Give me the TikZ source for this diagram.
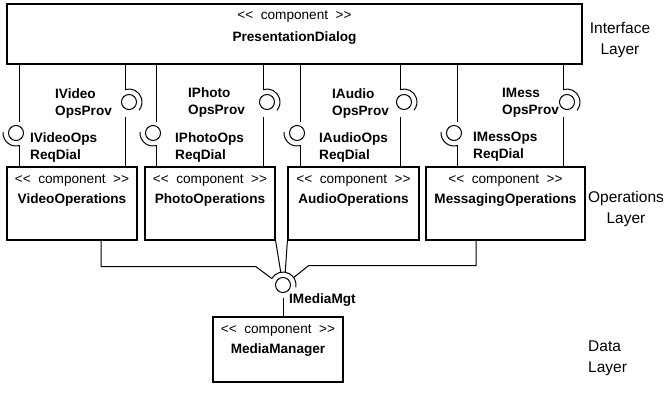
\documentclass[tikz,border=0pt]{standalone}
\usepackage{fontspec}
\setmainfont{Liberation Sans}
\usetikzlibrary{positioning}
\newcommand{\stereo}{<\kern0pt<\ \ component\ \ >\kern0pt>}

\begin{document}
\begin{tikzpicture}[x=1pt,y=1pt,
  comp/.style={draw, line width=1.2pt, inner sep=0pt},
  ctext/.style={align=center, inner sep=0pt, font=\fontsize{13.6}{20}\selectfont},
  iface/.style={align=left, inner sep=0pt, anchor=west, font=\fontsize{13.6}{17}\selectfont\bfseries},
  layer/.style={inner sep=0pt, font=\fontsize{15.5}{21}\selectfont},
  ball/.style={circle, draw, line width=1pt, minimum size=15pt, inner sep=0pt},
  wire/.style={line width=1pt}]
  \useasboundingbox (0,0) rectangle (667,-393);

  % components
  \node[comp, minimum width=575pt, minimum height=60pt] (pd) at (294.5,-34) {};
  \node[ctext, font=\fontsize{13.6}{22}\selectfont] (pdt) at (294.5,-28) {\stereo\\\textbf{PresentationDialog}};
  \node[comp, minimum width=130pt, minimum height=73pt] (vo) at (72,-203.5) {};
  \node[ctext] (vot) at (72,-191) {\stereo\\\textbf{VideoOperations}};
  \node[comp, minimum width=130pt, minimum height=73pt] (po) at (210,-203.5) {};
  \node[ctext] (pot) at (210,-191) {\stereo\\\textbf{PhotoOperations}};
  \node[comp, minimum width=131pt, minimum height=73pt] (ao) at (353.5,-203.5) {};
  \node[ctext] (aot) at (353.5,-191) {\stereo\\\textbf{AudioOperations}};
  \node[comp, minimum width=159pt, minimum height=73pt] (mo) at (505.5,-203.5) {};
  \node[ctext] (mot) at (505.5,-191) {\stereo\\\textbf{MessagingOperations}};
  \node[comp, minimum width=130pt, minimum height=65pt] (mm) at (278,-349.5) {};
  \node[ctext] (mmt) at (278,-341) {\stereo\\\textbf{MediaManager}};

  % layers
  \node[layer, align=center] (il) at (620,-40) {Interface\\Layer};
  \node[layer, align=center] (ol) at (626,-209) {Operations\\Layer};
  \node[layer, align=left, anchor=west] (dl) at (588,-358) {Data\\Layer};

  % video interfaces
  \node[ball] (vreq) at (16,-133) {};
  \draw[wire] ([xshift=3pt]vreq.north |- pd.south) -- ([xshift=3pt,yshift=3pt]vreq.north);
  \draw[wire] (vreq.center) ++(175:13) arc[start angle=175, end angle=285, radius=13];
  \draw[wire] ([xshift=3pt,yshift=-4pt]vreq.south) -- ([xshift=3pt]vreq.south |- vo.north);
  \node[iface] (vreql) at (30,-147) {IVideoOps\\ReqDial};
  \node[ball] (vprov) at (129,-102) {};
  \draw[wire] ([xshift=-4pt]vprov.north |- pd.south) -- ([xshift=-4pt,yshift=4pt]vprov.north);
  \draw[wire] (vprov.center) ++(108:13) arc[start angle=108, end angle=-40, radius=13];
  \draw[wire] ([xshift=-4pt,yshift=-7pt]vprov.south) -- ([xshift=-4pt]vprov.south |- vo.north);
  \node[iface] (vprovl) at (55,-103.5) {IVideo\\OpsProv};

  % photo interfaces
  \node[ball] (preq) at (153,-133) {};
  \draw[wire] ([xshift=3pt]preq.north |- pd.south) -- ([xshift=3pt,yshift=3pt]preq.north);
  \draw[wire] (preq.center) ++(175:13) arc[start angle=175, end angle=285, radius=13];
  \draw[wire] ([xshift=3pt,yshift=-4pt]preq.south) -- ([xshift=3pt]preq.south |- po.north);
  \node[iface] (preql) at (175,-147) {IPhotoOps\\ReqDial};
  \node[ball] (pprov) at (267,-102) {};
  \draw[wire] ([xshift=-4pt]pprov.north |- pd.south) -- ([xshift=-4pt,yshift=4pt]pprov.north);
  \draw[wire] (pprov.center) ++(108:13) arc[start angle=108, end angle=-40, radius=13];
  \draw[wire] ([xshift=-4pt,yshift=-7pt]pprov.south) -- ([xshift=-4pt]pprov.south |- po.north);
  \node[iface] (pprovl) at (188,-102) {IPhoto\\OpsProv};

  % audio interfaces
  \node[ball] (areq) at (297,-133) {};
  \draw[wire] ([xshift=3pt]areq.north |- pd.south) -- ([xshift=3pt,yshift=3pt]areq.north);
  \draw[wire] (areq.center) ++(175:13) arc[start angle=175, end angle=285, radius=13];
  \draw[wire] ([xshift=3pt,yshift=-4pt]areq.south) -- ([xshift=3pt]areq.south |- ao.north);
  \node[iface] (areql) at (319,-147) {IAudioOps\\ReqDial};
  \node[ball] (aprov) at (404,-102) {};
  \draw[wire] ([xshift=-4pt]aprov.north |- pd.south) -- ([xshift=-4pt,yshift=4pt]aprov.north);
  \draw[wire] (aprov.center) ++(108:13) arc[start angle=108, end angle=-40, radius=13];
  \draw[wire] ([xshift=-4pt,yshift=-7pt]aprov.south) -- ([xshift=-4pt]aprov.south |- ao.north);
  \node[iface] (aprovl) at (332,-103) {IAudio\\OpsProv};

  % messaging interfaces
  \node[ball] (mreq) at (454,-133) {};
  \draw[wire] ([xshift=3pt]mreq.north |- pd.south) -- ([xshift=3pt,yshift=3pt]mreq.north);
  \draw[wire] (mreq.center) ++(175:13) arc[start angle=175, end angle=285, radius=13];
  \draw[wire] ([xshift=3pt,yshift=-4pt]mreq.south) -- ([xshift=3pt]mreq.south |- mo.north);
  \node[iface] (mreql) at (473,-147) {IMessOps\\ReqDial};
  \node[ball] (mprov) at (567,-102) {};
  \draw[wire] ([xshift=-4pt]mprov.north |- pd.south) -- ([xshift=-4pt,yshift=4pt]mprov.north);
  \draw[wire] (mprov.center) ++(108:13) arc[start angle=108, end angle=-40, radius=13];
  \draw[wire] ([xshift=-4pt,yshift=-7pt]mprov.south) -- ([xshift=-4pt]mprov.south |- mo.north);
  \node[iface] (mprovl) at (502,-103) {IMess\\OpsProv};

  % media manager interface
  \node[ball] (mmball) at (283,-285) {};
  \draw[wire] (mmball.center) ++(150:13) arc[start angle=150, end angle=-10, radius=13];
  \coordinate (mmsv) at ([shift={(150:13)}]mmball.center);
  \coordinate (mmsp) at ([shift={(100:13)}]mmball.center);
  \coordinate (mmsa) at ([shift={(80:13)}]mmball.center);
  \coordinate (mmsm) at ([shift={(35:13)}]mmball.center);
  \draw[wire] ([xshift=29pt]vo.south) |- ([xshift=-16pt,yshift=12pt]mmsv) -- (mmsv);
  \draw[wire] (po.south east) -- (mmsp);
  \draw[wire] (ao.south west) -- (mmsa);
  \draw[wire] ([xshift=-29.5pt]mo.south) |- ([xshift=15pt,yshift=12pt]mmsm) -- (mmsm);
  \draw[wire] ([yshift=-5pt]mmball.south) -- (mmball |- mm.north);
  \node[iface] (mml) at (289,-300) {IMediaMgt};
\end{tikzpicture}
\end{document}
